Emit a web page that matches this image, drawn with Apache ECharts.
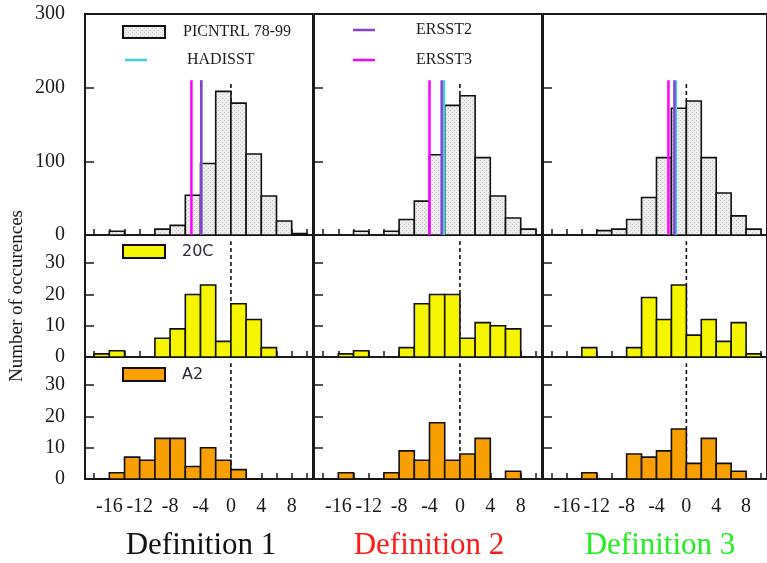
<!DOCTYPE html>
<html>
<head>
<meta charset="utf-8">
<script src="https://cdn.jsdelivr.net/npm/echarts@6/dist/echarts.min.js"></script>
<style>
  html, body { margin: 0; padding: 0; background: #fff; }
  #chart { width: 767px; height: 563px; }
</style>
</head>
<body>
<div id="chart"></div>
<script>
// bin centres, bins are 2 wide ([-18,-16] ... [8,10])
var binCenters = [-17, -15, -13, -11, -9, -7, -5, -3, -1, 1, 3, 5, 7, 9];

// PICNTRL 78-99 (top row), one array per definition; null = no bar, 0 = empty bin outline
var picntrl1 = [null, 5, null, null, 8, 13, 54, 97, 195, 179, 110, 53, 19, 2];
var picntrl2 = [null, null, 5, null, 5, 21, 46, 109, 176, 189, 105, 53, 23, 8];
var picntrl3 = [null, null, null, 6, 8, 21, 51, 105, 172, 182, 105, 57, 26, 8];

// 20C (middle row)
var c20_1 = [1, 2, null, null, 6, 9, 20, 23, 5, 17, 12, 3, null, null];
var c20_2 = [null, 1, 2, null, null, 3, 17, 20, 20, 6, 11, 10, 9, null];
var c20_3 = [null, null, 3, null, null, 3, 19, 12, 23, 7, 12, 5, 11, 1];

// A2 (bottom row)
var a2_1 = [0, 2, 7, 6, 13, 13, 4, 10, 6, 3, 0, null, null, null];
var a2_2 = [0, 2, null, 0, 2, 9, 6, 18, 6, 8, 13, null, 2.5, null];
var a2_3 = [null, 0, 2, null, null, 8, 7, 9, 16, 5, 13, 5, 2.5, null];

// observed values (vertical lines in the top row)
var ersst3 = [-5.2, -4.0, -2.4];
var ersst2 = [-3.9, -2.4, -1.6];
var hadisst = [-3.9, -2.1, -1.4];
var obsTop = 210;
var zeroLineTop = [207, 37, 37];

var xTicks = [-18, -16, -14, -12, -10, -8, -6, -4, -2, 0, 2, 4, 6, 8, 10];
var xLabels = [-16, -12, -8, -4, 0, 4, 8];
var yTicksTop = [0, 100, 200, 300];
var yTicksLow = [0, 10, 20, 30];
var defTitles = ['Definition 1', 'Definition 2', 'Definition 3'];
var defColors = ['#111111', '#ff1a1a', '#22ee22'];

var serif = "'Liberation Serif', 'Times New Roman', serif";

// dotted light-gray fill for the control run
var pat = document.createElement('canvas');
pat.width = 4; pat.height = 4;
var pctx = pat.getContext('2d');
pctx.fillStyle = '#ececec';
pctx.fillRect(0, 0, 4, 4);
pctx.fillStyle = '#c9c9c9';
pctx.fillRect(0, 0, 1, 1);
pctx.fillRect(2, 2, 1, 1);
var grayFill = { image: pat, repeat: 'repeat' };

var rows = [
    { data: [picntrl1, picntrl2, picntrl3], fill: grayFill, max: 300, ticks: yTicksTop, top: 14, height: 221 },
    { data: [c20_1, c20_2, c20_3], fill: '#f5f500', max: 39, ticks: yTicksLow, top: 235, height: 122 },
    { data: [a2_1, a2_2, a2_3], fill: '#f7a000', max: 39, ticks: yTicksLow, top: 357, height: 122 }
];

function pairs(arr) {
    var out = [];
    for (var i = 0; i < arr.length; i++) {
        if (arr[i] !== null) out.push([binCenters[i], arr[i]]);
    }
    return out;
}

function binRenderer(fill) {
    return function (params, api) {
        var c = api.value(0), n = api.value(1);
        var p0 = api.coord([c - 1, n]);
        var p1 = api.coord([c + 1, 0]);
        return {
            type: 'rect',
            shape: { x: p0[0], y: p0[1], width: p1[0] - p0[0], height: p1[1] - p0[1] },
            style: { fill: fill, stroke: '#111', lineWidth: 1.6 }
        };
    };
}

function vline(g, x, top, color, width, dashed, z) {
    return {
        type: 'line',
        xAxisIndex: g,
        yAxisIndex: g,
        data: [[x, 0], [x, top]],
        showSymbol: false,
        symbol: 'none',
        silent: true,
        animation: false,
        z: z,
        lineStyle: { color: color, width: width, type: dashed ? [4, 3] : 'solid' }
    };
}

var grids = [], xAxes = [], yAxes = [], series = [];

for (var r = 0; r < 3; r++) {
    for (var c = 0; c < 3; c++) {
        var g = r * 3 + c;
        var row = rows[r];
        grids.push({
            left: 85 + c * 229,
            top: row.top,
            width: 228,
            height: row.height,
            show: true,
            borderColor: '#1a1a1a',
            borderWidth: 2,
            backgroundColor: 'transparent'
        });
        xAxes.push({
            type: 'value',
            gridIndex: g,
            min: -19.2,
            max: 10.8,
            axisLine: { show: false, onZero: false },
            splitLine: { show: false },
            axisTick: {
                show: true, inside: true, length: 6,
                customValues: xTicks,
                lineStyle: { color: '#1a1a1a', width: 1.5 }
            },
            axisLabel: {
                show: r === 2,
                customValues: xLabels,
                fontFamily: serif,
                fontSize: 20,
                color: '#1a1a1a',
                margin: 18
            }
        });
        var yAx = {
            type: 'value',
            gridIndex: g,
            min: 0,
            max: row.max,
            axisLine: { show: false, onZero: false },
            splitLine: { show: false },
            axisTick: {
                show: true, inside: true, length: 9,
                customValues: row.ticks,
                lineStyle: { color: '#1a1a1a', width: 1.5 }
            },
            axisLabel: {
                show: c === 0,
                customValues: row.ticks,
                fontFamily: serif,
                fontSize: 20,
                color: '#1a1a1a',
                margin: 20
            }
        };
        if (r === 1 && c === 0) {
            yAx.name = 'Number of occurences';
            yAx.nameLocation = 'middle';
            yAx.nameGap = 58;
            yAx.nameTextStyle = { fontFamily: serif, fontSize: 19, color: '#1a1a1a' };
        }
        yAxes.push(yAx);

        // dashed zero line behind the bars
        series.push(vline(g, 0, zeroLineTop[r], '#111', 1.6, true, 1));

        series.push({
            type: 'custom',
            xAxisIndex: g,
            yAxisIndex: g,
            renderItem: binRenderer(row.fill),
            data: pairs(row.data[c]),
            animation: false,
            silent: true,
            z: 2
        });

        if (r === 0) {
            series.push(vline(g, hadisst[c], obsTop, '#3ad6cf', 2.5, false, 5));
            series.push(vline(g, ersst2[c], obsTop, '#8a3fd6', 2.5, false, 5));
            series.push(vline(g, ersst3[c], obsTop, '#ff00ff', 2.5, false, 5));
        }
    }
}

var legendText = { fontFamily: serif, fontSize: 16, fill: '#1c1c1c' };
var sansText = { fontFamily: "'DejaVu Sans', sans-serif", fontSize: 16, fill: '#2a2a3a' };

function label(x, y, text, base) {
    return {
        type: 'text', x: x, y: y, z: 10,
        style: Object.assign({ text: text, textVerticalAlign: 'middle', textAlign: 'left' }, base)
    };
}
function legLine(x, y, color) {
    return { type: 'line', z: 10, shape: { x1: x, y1: y, x2: x + 22, y2: y }, style: { stroke: color, lineWidth: 2.5 } };
}
function legRect(x, y, h, fill) {
    return { type: 'rect', z: 10, shape: { x: x, y: y, width: 42, height: h }, style: { fill: fill, stroke: '#111', lineWidth: 2 } };
}

var graphics = [
    legRect(123, 26, 12, grayFill),
    label(183, 32, 'PICNTRL 78-99', legendText),
    legLine(125, 60, '#3ad6cf'),
    label(187, 60, 'HADISST', legendText),
    legLine(353, 30, '#8a3fd6'),
    label(416, 30, 'ERSST2', legendText),
    legLine(353, 60, '#ff00ff'),
    label(416, 60, 'ERSST3', legendText),
    legRect(123, 245, 13, '#f5f500'),
    label(182, 252, '20C', sansText),
    legRect(123, 368, 13, '#f7a000'),
    label(182, 375, 'A2', sansText)
];
var titleX = [201, 429, 660];
for (var i = 0; i < 3; i++) {
    graphics.push({
        type: 'text', x: titleX[i], y: 546, z: 10,
        style: {
            text: defTitles[i], textAlign: 'center', textVerticalAlign: 'middle',
            fontFamily: serif, fontSize: 31, fill: defColors[i]
        }
    });
}

var chart = echarts.init(document.getElementById('chart'));
chart.setOption({
    animation: false,
    backgroundColor: '#ffffff',
    grid: grids,
    xAxis: xAxes,
    yAxis: yAxes,
    series: series,
    graphic: graphics
});
</script>
</body>
</html>
